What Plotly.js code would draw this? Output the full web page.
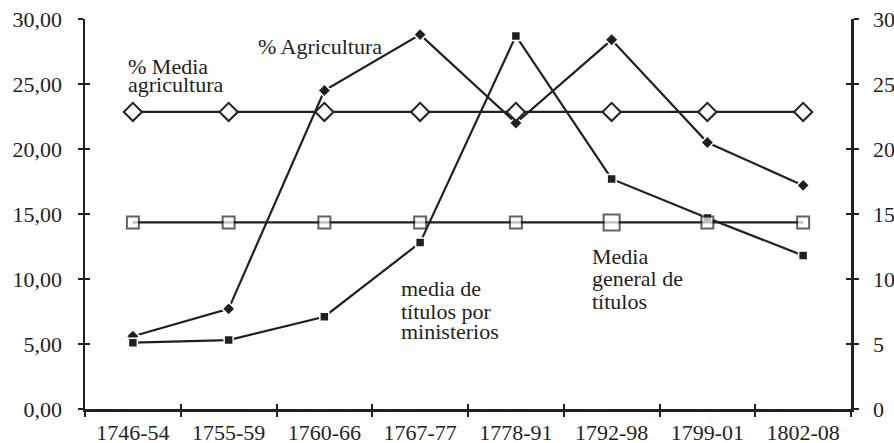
<!DOCTYPE html>
<html>
<head>
<meta charset="utf-8">
<script src="https://cdn.plot.ly/plotly-3.0.1.min.js"></script>
<style>
html,body{margin:0;padding:0;background:#fff;}
#chart text{font-family:"Liberation Serif","Times New Roman",serif !important;}
</style>
</head>
<body>
<div id="chart"></div>
<script>
// ---- data ----
var periods = ['1746-54','1755-59','1760-66','1767-77','1778-91','1792-98','1799-01','1802-08'];
var pctAgricultura = [5.6, 7.7, 24.5, 28.8, 22.0, 28.4, 20.5, 17.2];
var mediaTitulosMinisterios = [5.1, 5.3, 7.1, 12.8, 28.7, 17.7, 14.7, 11.8];
var mediaAgricultura = [22.85, 22.85, 22.85, 22.85, 22.85, 22.85, 22.85, 22.85];
var mediaGeneralTitulos = [14.35, 14.35, 14.35, 14.35, 14.35, 14.35, 14.35, 14.35];
var leftTickVals = [0, 5, 10, 15, 20, 25, 30];

// ---- style ----
var INK = '#231f20';
function fnt() { return {family: 'Liberation Serif', size: 22, color: INK}; }
var W = 894, H = 443, L = 85, R = 43, T = 19, B = 34;

function px2x(px) { return (px - L) / (W - L - R); }
function px2y(py) { return (H - B - py) / (H - T - B); }

var traces = [
  {x: periods, y: pctAgricultura, type: 'scatter', mode: 'lines+markers', name: '% Agricultura',
   line: {color: INK, width: 2.2},
   marker: {symbol: 'diamond', size: 10, color: INK, line: {color: '#fff', width: 1.5}}},
  {x: periods, y: mediaTitulosMinisterios, type: 'scatter', mode: 'lines+markers', name: 'media de títulos por ministerios',
   line: {color: INK, width: 2.2},
   marker: {symbol: 'square', size: 9, color: INK, line: {color: '#fff', width: 1.5}}},
  {x: periods, y: mediaGeneralTitulos, type: 'scatter', mode: 'lines+markers', name: 'Media general de títulos',
   line: {color: INK, width: 2.2},
   marker: {symbol: 'square', size: [12, 12, 12, 12, 12, 16, 12, 12], color: '#fff', line: {color: INK, width: 2}}},
  {x: periods, y: mediaAgricultura, type: 'scatter', mode: 'lines+markers', name: '% Media agricultura',
   line: {color: INK, width: 2.2},
   marker: {symbol: 'diamond', size: 14, color: '#fff', line: {color: INK, width: 2}}}
];

function ann(text, pxX, pxY) {
  return {text: text, xref: 'paper', yref: 'paper', x: px2x(pxX), y: px2y(pxY),
          xanchor: 'left', yanchor: 'middle', showarrow: false, font: fnt(), borderpad: 0};
}

var layout = {
  width: W, height: H,
  margin: {l: L, r: R, t: T, b: B},
  paper_bgcolor: '#fff', plot_bgcolor: '#fff',
  showlegend: false,
  separators: ',.',
  font: fnt(),
  xaxis: {
    type: 'category', range: [-0.5, 7.5], showgrid: false, zeroline: false,
    showline: true, linecolor: INK, linewidth: 2.5,
    ticks: 'outside', tickson: 'boundaries', ticklen: 5, tickwidth: 2, tickcolor: INK,
    tickfont: fnt(), ticklabelstandoff: 2
  },
  xaxis2: {
    overlaying: 'x', anchor: 'y', type: 'linear', range: [-0.5, 7.5], tick0: -0.5, dtick: 1,
    ticks: 'inside', ticklen: 5, tickwidth: 2, tickcolor: INK,
    showticklabels: false, showgrid: false, zeroline: false, showline: false
  },
  yaxis: {
    range: [0, 30], tickvals: leftTickVals, tickformat: '.2f', showgrid: false, zeroline: false,
    showline: true, linecolor: INK, linewidth: 2.5,
    ticks: 'outside', ticklen: 5, tickwidth: 2, tickcolor: INK,
    tickfont: fnt(), ticklabelstandoff: 11
  },
  yaxis2: {
    overlaying: 'y', side: 'right', anchor: 'x', range: [0, 30], tickvals: leftTickVals, tickformat: 'd',
    showgrid: false, zeroline: false, showline: true, linecolor: INK, linewidth: 2.5,
    ticks: 'outside', ticklen: 5, tickwidth: 2, tickcolor: INK,
    tickfont: fnt(), ticklabelstandoff: 10
  },
  yaxis3: {
    overlaying: 'y', side: 'left', anchor: 'x', range: [0, 30], tickvals: leftTickVals,
    ticks: 'inside', ticklen: 5, tickwidth: 2, tickcolor: INK,
    showticklabels: false, showgrid: false, zeroline: false, showline: false
  },
  yaxis4: {
    overlaying: 'y', side: 'right', anchor: 'x', range: [0, 30], tickvals: leftTickVals,
    ticks: 'inside', ticklen: 5, tickwidth: 2, tickcolor: INK,
    showticklabels: false, showgrid: false, zeroline: false, showline: false
  },
  annotations: [
    ann('% Media', 127, 66.5),
    ann('agricultura', 127, 84.5),
    ann('% Agricultura', 257, 47),
    ann('media de', 400, 288),
    ann('títulos por', 400, 311),
    ann('ministerios', 400, 331),
    ann('Media', 591, 256.5),
    ann('general de', 591, 278),
    ann('títulos', 591, 301.5)
  ]
};

// invisible anchors so the overlay tick axes render
traces.push({x: [0], y: [0], xaxis: 'x2', yaxis: 'y3', type: 'scatter', mode: 'markers', marker: {opacity: 0}, hoverinfo: 'skip', showlegend: false});
traces.push({x: [0], y: [0], xaxis: 'x2', yaxis: 'y4', type: 'scatter', mode: 'markers', marker: {opacity: 0}, hoverinfo: 'skip', showlegend: false});
traces.push({x: [0], y: [0], xaxis: 'x', yaxis: 'y2', type: 'scatter', mode: 'markers', marker: {opacity: 0}, hoverinfo: 'skip', showlegend: false});

Plotly.newPlot('chart', traces, layout, {staticPlot: true, displayModeBar: false}).then(function (gd) {
  gd.querySelectorAll('text').forEach(function (t) { t.style.fontFamily = '"Liberation Serif", "Times New Roman", serif'; });
});
</script>
</body>
</html>
